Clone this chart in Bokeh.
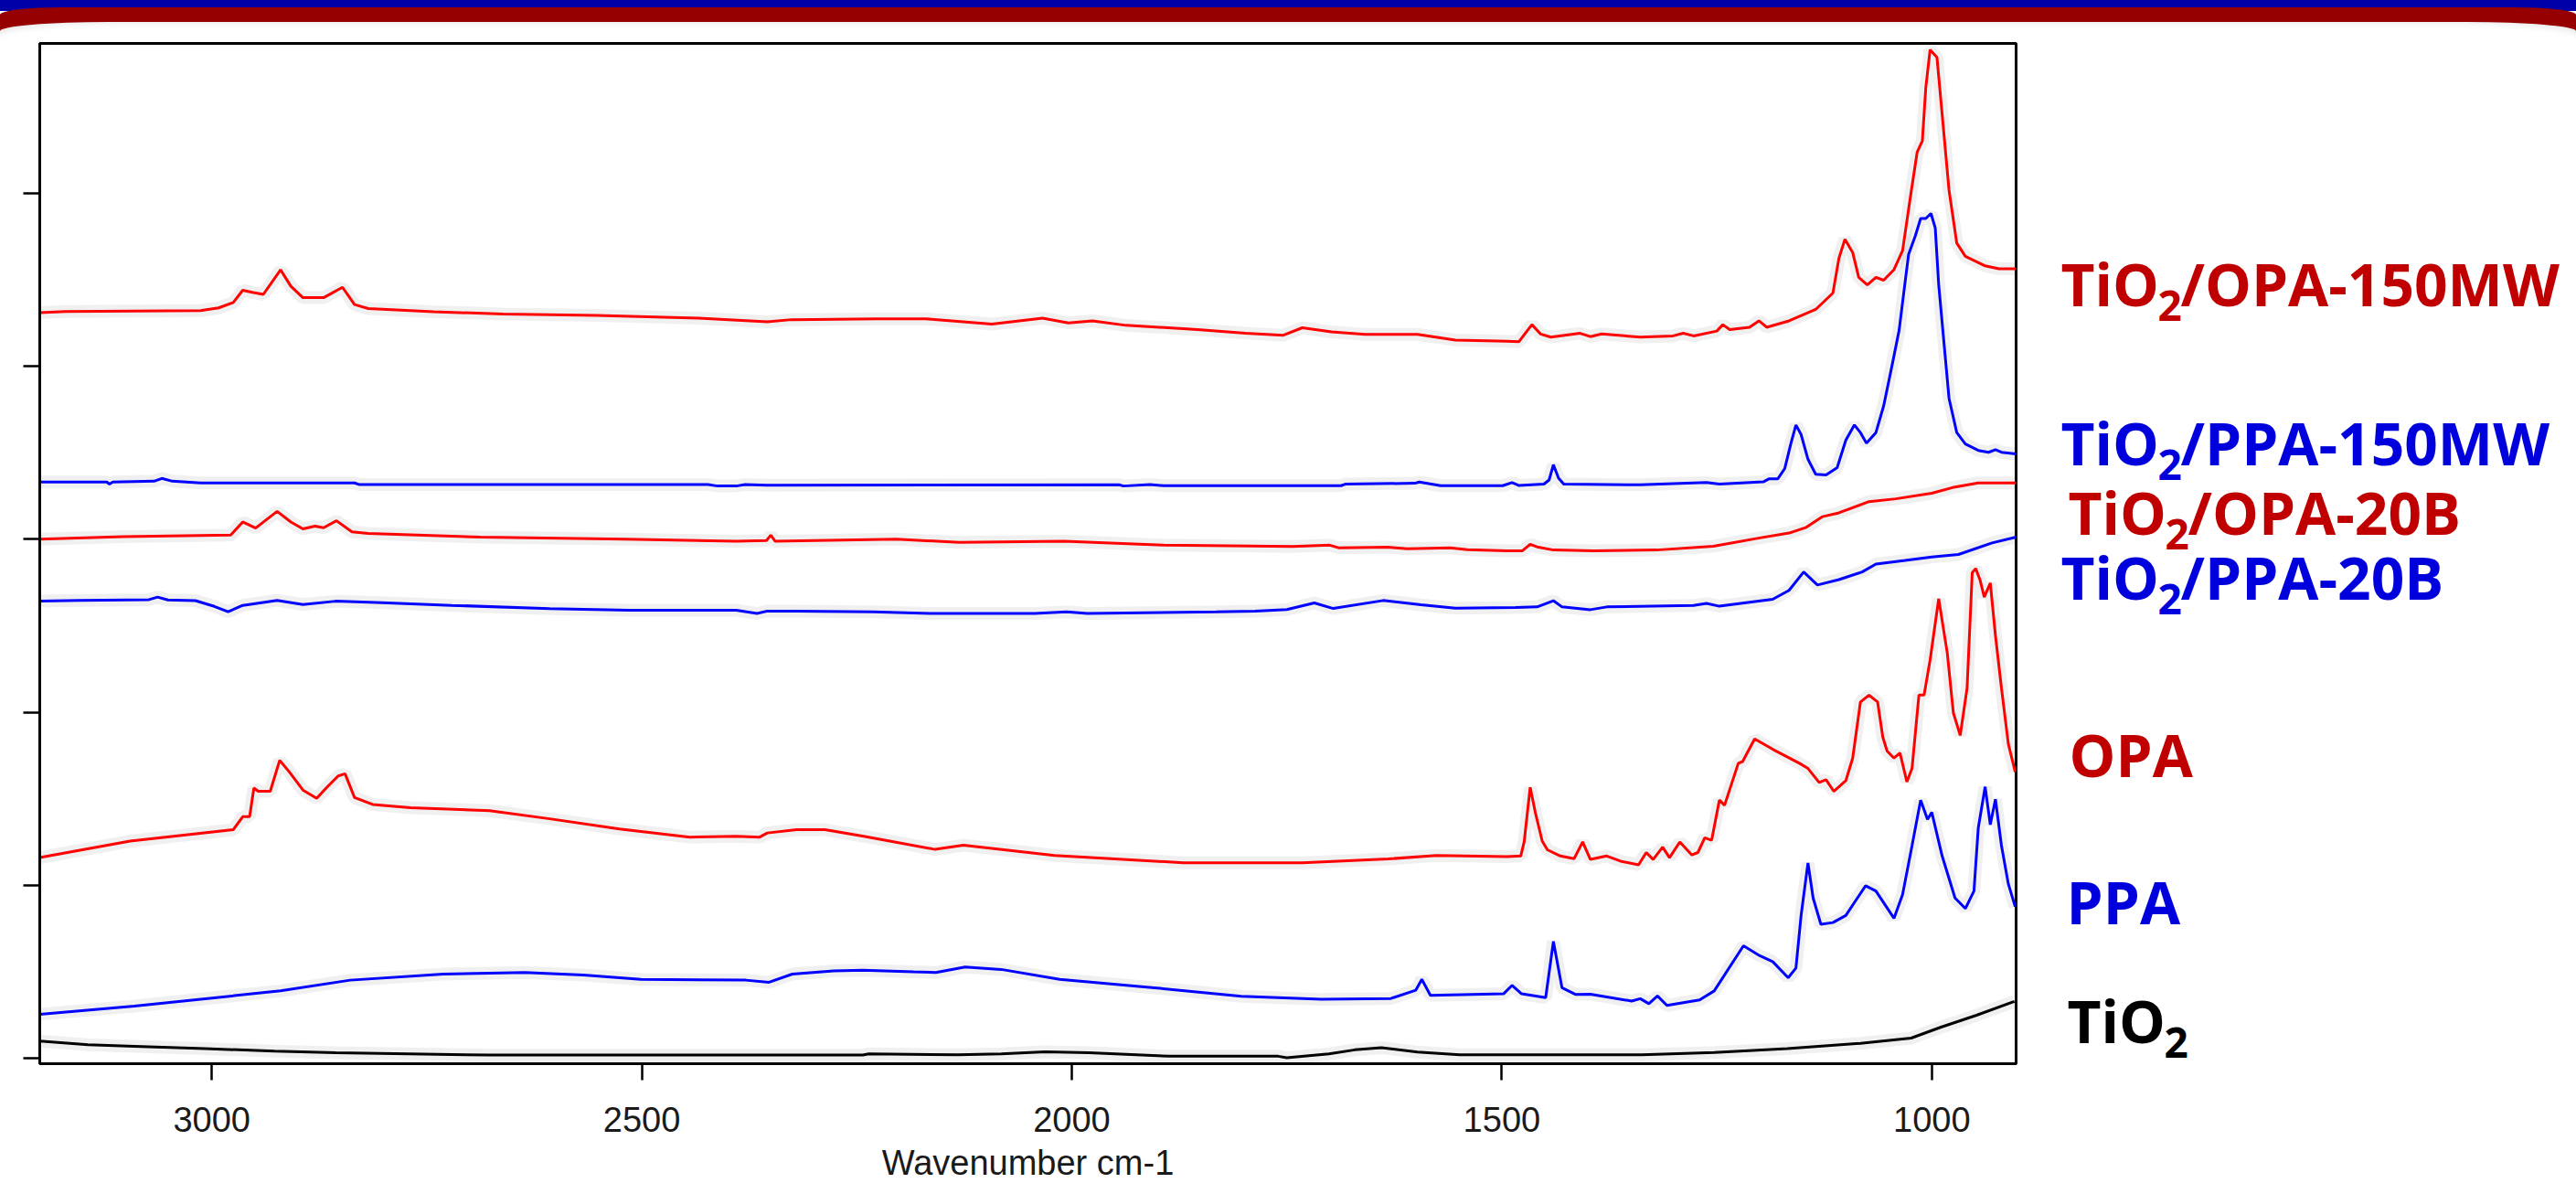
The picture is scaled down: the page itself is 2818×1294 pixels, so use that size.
import numpy as np
from bokeh.plotting import figure
from bokeh.models import Range1d, FixedTicker, ColumnDataSource, Div, CustomJSTickFormatter
from bokeh.core.properties import value
from bokeh.layouts import column, row
from bokeh.embed import file_html
from bokeh.resources import INLINE

# ---------------- data (wavenumber cm-1, stacked absorbance in tick units) ----------------
OPA150_WN = [3200, 3170, 3013, 2992, 2975, 2964, 2953, 2940, 2920, 2908, 2894, 2870, 2848, 2834, 2818,
             2742, 2661, 2553, 2434, 2354, 2326, 2226, 2170, 2093, 2034, 2004, 1976, 1937, 1854, 1798,
             1754, 1732, 1698, 1659, 1598, 1554, 1494, 1480, 1465, 1455, 1443, 1409, 1397, 1384, 1339,
             1301, 1289, 1277, 1250, 1243, 1235, 1212, 1201, 1192, 1166, 1135, 1115, 1108, 1101, 1092,
             1085, 1075, 1065, 1056, 1044, 1034, 1025, 1017, 1011, 1007, 1002, 994, 988, 980, 971,
             961, 938, 922, 902]
OPA150_A = [4.310, 4.317, 4.322, 4.338, 4.369, 4.440, 4.428, 4.416, 4.558, 4.463, 4.397, 4.397, 4.457, 4.357, 4.334,
            4.315, 4.303, 4.294, 4.279, 4.257, 4.270, 4.275, 4.275, 4.244, 4.279, 4.251, 4.263, 4.237, 4.213, 4.192,
            4.180, 4.223, 4.199, 4.185, 4.185, 4.152, 4.145, 4.143, 4.241, 4.187, 4.169, 4.191, 4.172, 4.187, 4.169,
            4.176, 4.191, 4.176, 4.204, 4.241, 4.213, 4.226, 4.263, 4.226, 4.263, 4.329, 4.424, 4.625, 4.735, 4.658,
            4.515, 4.471, 4.515, 4.498, 4.559, 4.669, 4.976, 5.239, 5.304, 5.611, 5.830, 5.786, 5.458, 5.019, 4.713,
            4.636, 4.581, 4.564, 4.564]

PPA150_WN = [3200, 3122, 3119, 3115, 3067, 3058, 3046, 3013, 2834, 2829, 2423, 2412, 2390, 2380, 2354,
             1945, 1940, 1909, 1893, 1687, 1682, 1601, 1596, 1571, 1499, 1488, 1480, 1451, 1445, 1440,
             1434, 1428, 1339, 1262, 1247, 1196, 1189, 1179, 1171, 1164, 1158, 1152, 1144, 1135, 1123,
             1110, 1100, 1090, 1083, 1076, 1065, 1056, 1046, 1038, 1032, 1027, 1019, 1013, 1007, 1001,
             996, 992, 986, 980, 971, 961, 946, 934, 926, 919, 902]
PPA150_A = [3.331, 3.331, 3.319, 3.331, 3.336, 3.352, 3.336, 3.326, 3.326, 3.317, 3.317, 3.308, 3.308, 3.317, 3.312,
            3.315, 3.308, 3.317, 3.310, 3.310, 3.319, 3.324, 3.331, 3.310, 3.310, 3.328, 3.311, 3.319, 3.343, 3.431,
            3.354, 3.319, 3.315, 3.328, 3.319, 3.332, 3.350, 3.350, 3.409, 3.551, 3.661, 3.606, 3.463, 3.376, 3.372,
            3.415, 3.573, 3.661, 3.617, 3.556, 3.617, 3.771, 4.011, 4.209, 4.450, 4.647, 4.757, 4.855, 4.855, 4.884,
            4.800, 4.472, 4.143, 3.815, 3.617, 3.551, 3.514, 3.503, 3.518, 3.503, 3.494]

OPA20B_WN = [3200, 3103, 2978, 2964, 2949, 2924, 2908, 2894, 2880, 2870, 2855, 2837, 2818, 2688, 2520,
             2390, 2355, 2350, 2345, 2204, 2131, 2009, 1893, 1743, 1700, 1690, 1632, 1610, 1560, 1540,
             1494, 1476, 1467, 1459, 1440, 1393, 1320, 1254, 1200, 1166, 1146, 1127, 1108, 1073, 1042,
             1000, 976, 946, 902]
OPA20B_A = [3.001, 3.015, 3.024, 3.100, 3.065, 3.161, 3.100, 3.060, 3.076, 3.067, 3.107, 3.043, 3.034, 3.012, 3.001,
            2.989, 2.993, 3.024, 2.989, 3.001, 2.982, 2.989, 2.966, 2.958, 2.966, 2.951, 2.954, 2.945, 2.950, 2.940,
            2.934, 2.934, 2.971, 2.956, 2.938, 2.934, 2.938, 2.960, 3.008, 3.036, 3.069, 3.131, 3.153, 3.218, 3.234,
            3.266, 3.299, 3.326, 3.326]

PPA20B_WN = [3200, 3154, 3073, 3063, 3051, 3019, 2997, 2981, 2964, 2924, 2894, 2856, 2802, 2721, 2607,
             2515, 2390, 2366, 2354, 2320, 2231, 2165, 2043, 2006, 1982, 1832, 1787, 1750, 1718, 1696,
             1638, 1594, 1554, 1484, 1459, 1440, 1430, 1397, 1378, 1277, 1262, 1247, 1185, 1166, 1149,
             1133, 1108, 1081, 1065, 1031, 1000, 969, 930, 902]
PPA20B_A = [2.642, 2.647, 2.651, 2.666, 2.649, 2.645, 2.612, 2.581, 2.618, 2.647, 2.623, 2.642, 2.633, 2.618, 2.599,
            2.590, 2.590, 2.571, 2.585, 2.585, 2.581, 2.571, 2.571, 2.581, 2.571, 2.581, 2.585, 2.594, 2.632, 2.600,
            2.646, 2.621, 2.602, 2.605, 2.609, 2.645, 2.609, 2.593, 2.609, 2.617, 2.629, 2.613, 2.653, 2.705, 2.811,
            2.736, 2.767, 2.811, 2.857, 2.878, 2.898, 2.912, 2.979, 3.013]

OPA_WN = [3200, 3095, 2975, 2964, 2956, 2951, 2946, 2932, 2921, 2910, 2894, 2878, 2867, 2853, 2845,
          2834, 2813, 2769, 2677, 2607, 2526, 2444, 2390, 2363, 2354, 2320, 2287, 2242, 2159, 2126,
          2020, 1870, 1732, 1632, 1576, 1494, 1478, 1474, 1467, 1461, 1453, 1447, 1432, 1416, 1406,
          1397, 1378, 1362, 1341, 1332, 1324, 1313, 1305, 1293, 1279, 1272, 1264, 1256, 1247, 1241,
          1225, 1220, 1206, 1185, 1154, 1144, 1131, 1123, 1114, 1100, 1092, 1083, 1073, 1063, 1057,
          1052, 1044, 1037, 1029, 1023, 1015, 1009, 1002, 992, 982, 975, 967, 959, 953, 949,
          944, 939, 932, 926, 919, 911, 903]
OPA_A = [1.160, 1.255, 1.321, 1.396, 1.396, 1.562, 1.543, 1.543, 1.722, 1.656, 1.550, 1.502, 1.562, 1.632, 1.644,
         1.507, 1.467, 1.448, 1.431, 1.384, 1.325, 1.278, 1.283, 1.278, 1.302, 1.321, 1.321, 1.283, 1.207, 1.231,
         1.172, 1.130, 1.130, 1.152, 1.172, 1.165, 1.169, 1.250, 1.566, 1.420, 1.255, 1.205, 1.169, 1.153, 1.250,
         1.149, 1.169, 1.139, 1.118, 1.189, 1.149, 1.220, 1.159, 1.250, 1.175, 1.189, 1.274, 1.260, 1.492, 1.462,
         1.705, 1.715, 1.846, 1.786, 1.705, 1.675, 1.594, 1.610, 1.543, 1.604, 1.735, 2.059, 2.099, 2.059, 1.856,
         1.776, 1.735, 1.765, 1.598, 1.675, 2.099, 2.099, 2.302, 2.656, 2.342, 1.998, 1.866, 2.139, 2.807, 2.831,
         2.766, 2.666, 2.747, 2.443, 2.139, 1.816, 1.655]

PPA_WN = [3200, 3090, 2920, 2839, 2731, 2636, 2568, 2501, 2379, 2352, 2325, 2277, 2243, 2184, 2158,
          2124, 2082, 2014, 1904, 1803, 1710, 1629, 1600, 1593, 1583, 1498, 1488, 1477, 1449, 1440,
          1430, 1414, 1397, 1349, 1339, 1329, 1319, 1308, 1270, 1253, 1219, 1200, 1185, 1167, 1158,
          1152, 1144, 1138, 1129, 1115, 1100, 1077, 1065, 1044, 1034, 1023, 1013, 1005, 1000, 988,
          973, 961, 951, 946, 938, 932, 926, 919, 911, 903]
PPA_A = [0.254, 0.301, 0.389, 0.451, 0.486, 0.495, 0.481, 0.456, 0.451, 0.439, 0.486, 0.504, 0.509, 0.499, 0.495,
         0.527, 0.513, 0.456, 0.407, 0.358, 0.340, 0.345, 0.393, 0.456, 0.363, 0.372, 0.421, 0.372, 0.350, 0.675,
         0.407, 0.368, 0.370, 0.330, 0.344, 0.315, 0.360, 0.305, 0.337, 0.389, 0.650, 0.592, 0.558, 0.465, 0.521,
         0.825, 1.129, 0.926, 0.774, 0.784, 0.825, 0.997, 0.966, 0.809, 0.946, 1.229, 1.492, 1.381, 1.421, 1.169,
         0.926, 0.865, 0.966, 1.330, 1.569, 1.350, 1.497, 1.229, 1.007, 0.875]

TIO2_WN = [3200, 3144, 3090, 3008, 2927, 2856, 2771, 2677, 2243, 2236, 2133, 2082, 2031, 1980, 1887,
           1760, 1750, 1701, 1671, 1640, 1598, 1549, 1337, 1253, 1168, 1083, 1024, 990, 948, 904]
TIO2_A = [0.099, 0.078, 0.069, 0.055, 0.041, 0.032, 0.025, 0.018, 0.018, 0.025, 0.019, 0.025, 0.037, 0.031, 0.011,
          0.011, 0.002, 0.025, 0.048, 0.061, 0.035, 0.020, 0.019, 0.033, 0.055, 0.086, 0.116, 0.178, 0.248, 0.328]

X_TICKS = [1000, 1500, 2000, 2500, 3000]
Y_TICKS = [0, 1, 2, 3, 4, 5]
X_TITLE = "Wavenumber cm-1"

RED_LINE, BLUE_LINE, BLACK_LINE = "#FF0000", "#0000FF", "#000000"
RED_TXT, BLUE_TXT, BLACK_TXT = "#C00000", "#0000DD", "#000000"

SERIES = [
    (OPA150_WN, OPA150_A, RED_LINE),
    (PPA150_WN, PPA150_A, BLUE_LINE),
    (OPA20B_WN, OPA20B_A, RED_LINE),
    (PPA20B_WN, PPA20B_A, BLUE_LINE),
    (OPA_WN, OPA_A, RED_LINE),
    (PPA_WN, PPA_A, BLUE_LINE),
    (TIO2_WN, TIO2_A, BLACK_LINE),
]
for wn, a, _ in SERIES:
    assert len(wn) == len(a)

# series labels: (main, subscript, rest, colour, x in label panel px, baseline above frame bottom px)
LABELS = [
    ("TiO", "2", "/OPA-150MW", RED_TXT, 46, 828),
    ("TiO", "2", "/PPA-150MW", BLUE_TXT, 46, 654),
    ("TiO", "2", "/OPA-20B", RED_TXT, 54, 578),
    ("TiO", "2", "/PPA-20B", BLUE_TXT, 46, 507),
    ("OPA", "", "", RED_TXT, 55, 313),
    ("PPA", "", "", BLUE_TXT, 52, 152),
    ("TiO", "2", "", BLACK_TXT, 53, 22),
]

# ---------------- layout ----------------
TOTAL_W = 2818
BANNER_H = 42
FRAME_W, FRAME_H = 2162, 1116
B_LEFT, B_RIGHT, B_TOP, B_BOTTOM = 43, 3, 5, 131
MAIN_W = B_LEFT + FRAME_W + B_RIGHT
LAB_W = TOTAL_W - MAIN_W

banner_html = (
    f'<div style="position:relative;width:{TOTAL_W}px;height:{BANNER_H}px;overflow:hidden;background:#ffffff;">'
    f'<div style="position:absolute;left:0;top:0;width:{TOTAL_W}px;height:12px;background:#0000A8;"></div>'
    f'<div style="position:absolute;left:0;top:8px;width:{TOTAL_W}px;height:40px;background:#960000;'
    f'border-radius:70px 70px 0 0 / 8px 8px 0 0;"></div>'
    f'<div style="position:absolute;left:0;top:24px;width:{TOTAL_W}px;height:60px;background:#ffffff;'
    f'border-radius:120px 120px 0 0 / 10px 10px 0 0;box-shadow:inset 0 6px 8px -6px rgba(0,0,0,0.12);"></div>'
    '</div>'
)
banner = Div(text=banner_html, width=TOTAL_W, height=BANNER_H, margin=0)

# main spectrum plot
p = figure(frame_width=FRAME_W, frame_height=FRAME_H,
           x_range=Range1d(3200, 902), y_range=Range1d(-0.032, 5.867),
           output_backend="svg", toolbar_location=None,
           min_border_left=B_LEFT, min_border_right=B_RIGHT,
           min_border_top=B_TOP, min_border_bottom=B_BOTTOM)
p.background_fill_color = "white"
p.border_fill_color = "white"
p.outline_line_color = "black"
p.outline_line_width = 3
p.xgrid.visible = False
p.ygrid.visible = False

# soft glow under the traces (slide effect), then the traces themselves
for wn, a, col in SERIES:
    p.line(wn, a, line_color="#000000", line_alpha=0.06, line_width=14)
for wn, a, col in SERIES:
    p.line(wn, a, line_color=col, line_width=3)

xa = p.xaxis[0]
xa.ticker = FixedTicker(ticks=X_TICKS)
xa.major_tick_out = 18
xa.major_tick_in = 0
xa.minor_tick_out = 0
xa.minor_tick_in = 0
xa.major_tick_line_width = 2.5
xa.major_tick_line_color = "black"
xa.axis_line_width = 3
xa.axis_line_color = "black"
xa.major_label_text_font = "Liberation Sans"
xa.major_label_text_font_size = "38px"
xa.major_label_text_color = "#1a1a1a"
xa.major_label_standoff = 29
xa.axis_label = X_TITLE
xa.axis_label_text_font = "Liberation Sans"
xa.axis_label_text_font_size = "38px"
xa.axis_label_text_font_style = "normal"
xa.axis_label_text_color = "#1a1a1a"
xa.axis_label_standoff = 10

ya = p.yaxis[0]
ya.ticker = FixedTicker(ticks=Y_TICKS)
ya.formatter = CustomJSTickFormatter(code="return '';")
ya.major_tick_out = 18
ya.major_tick_in = 0
ya.minor_tick_out = 0
ya.minor_tick_in = 0
ya.major_tick_line_width = 2.5
ya.axis_line_width = 3
ya.major_label_standoff = 0

# label panel on the right (same frame height as the spectrum plot)
lp = figure(frame_width=LAB_W, frame_height=FRAME_H,
            x_range=Range1d(0, LAB_W), y_range=Range1d(0, FRAME_H),
            output_backend="svg", toolbar_location=None,
            min_border_left=0, min_border_right=0, min_border_top=B_TOP, min_border_bottom=B_BOTTOM,
            x_axis_location=None, y_axis_location=None, outline_line_color=None)
lp.background_fill_color = "white"
lp.border_fill_color = "white"
lp.grid.visible = False

MAIN_FS, SUB_FS = 64, 46
TIO_W, SUB_W, SUB_DROP = 106, 25, 17
BASE_FIX = 0.388  # the text box is anchored near its middle: lift by this fraction of the font size
pieces = {"main": dict(x=[], y=[], t=[], c=[]),
          "sub": dict(x=[], y=[], t=[], c=[])}
for main, sub, rest, col, x, y in LABELS:
    ym = y + BASE_FIX * MAIN_FS
    pieces["main"]["x"].append(x); pieces["main"]["y"].append(ym)
    pieces["main"]["t"].append(main); pieces["main"]["c"].append(col)
    if sub:
        pieces["sub"]["x"].append(x + TIO_W); pieces["sub"]["y"].append(y - SUB_DROP + BASE_FIX * SUB_FS)
        pieces["sub"]["t"].append(sub); pieces["sub"]["c"].append(col)
    if rest:
        pieces["main"]["x"].append(x + TIO_W + SUB_W); pieces["main"]["y"].append(ym)
        pieces["main"]["t"].append(rest); pieces["main"]["c"].append(col)

for key, fs in (("main", MAIN_FS), ("sub", SUB_FS)):
    src = ColumnDataSource(pieces[key])
    lp.text(x="x", y="y", text="t", text_color="c", source=src,
            text_font=value("Open Sans"), text_font_style="bold",
            text_font_size=value(f"{fs}px"), text_align="left", text_baseline="alphabetic")

layout = column(banner, row(p, lp, spacing=0), spacing=0)
open("out.html", "w").write(file_html(layout, INLINE, title="FTIR spectra"))
